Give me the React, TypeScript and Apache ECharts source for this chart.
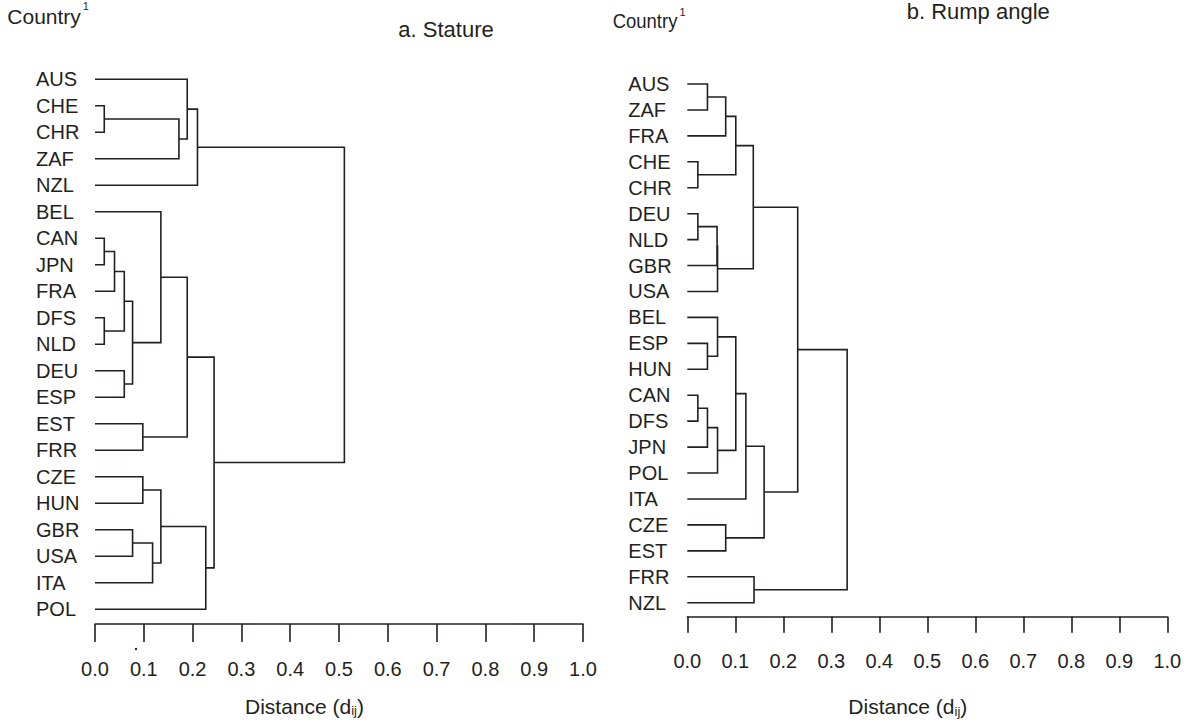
import React, { useEffect, useRef } from "react";
import * as echarts from "echarts";

// ---- Data ----
const leavesA = ["AUS", "CHE", "CHR", "ZAF", "NZL", "BEL", "CAN", "JPN", "FRA", "DFS", "NLD", "DEU", "ESP", "EST", "FRR", "CZE", "HUN", "GBR", "USA", "ITA", "POL"];
// merges: [childA, childB, height]; child = leaf name or index of an earlier merge
const mergesA: [string | number, string | number, number][] = [
  ["CHE", "CHR", 0.019],
  [0, "ZAF", 0.172],
  ["AUS", 1, 0.189],
  [2, "NZL", 0.21],
  ["CAN", "JPN", 0.019],
  [4, "FRA", 0.04],
  ["DFS", "NLD", 0.019],
  [5, 6, 0.06],
  ["DEU", "ESP", 0.06],
  [7, 8, 0.077],
  ["BEL", 9, 0.135],
  ["EST", "FRR", 0.098],
  [10, 11, 0.189],
  ["CZE", "HUN", 0.098],
  ["GBR", "USA", 0.077],
  [14, "ITA", 0.118],
  [13, 15, 0.135],
  [16, "POL", 0.227],
  [12, 17, 0.244],
  [3, 18, 0.511],
];

const leavesB = ["AUS", "ZAF", "FRA", "CHE", "CHR", "DEU", "NLD", "GBR", "USA", "BEL", "ESP", "HUN", "CAN", "DFS", "JPN", "POL", "ITA", "CZE", "EST", "FRR", "NZL"];
const mergesB: [string | number, string | number, number][] = [
  ["AUS", "ZAF", 0.042],
  [0, "FRA", 0.08],
  ["CHE", "CHR", 0.022],
  [1, 2, 0.101],
  ["DEU", "NLD", 0.022],
  [4, "GBR", 0.062],
  [5, "USA", 0.063],
  [3, 6, 0.1375],
  ["ESP", "HUN", 0.042],
  ["BEL", 8, 0.063],
  ["CAN", "DFS", 0.022],
  [10, "JPN", 0.042],
  [11, "POL", 0.063],
  [9, 12, 0.101],
  [13, "ITA", 0.122],
  ["CZE", "EST", 0.08],
  [14, 15, 0.16],
  [7, 16, 0.23],
  ["FRR", "NZL", 0.139],
  [17, 18, 0.333],
];

const xTicks = [0, 0.1, 0.2, 0.3, 0.4, 0.5, 0.6, 0.7, 0.8, 0.9, 1.0];
const titleA = "a. Stature";
const titleB = "b. Rump angle";

// ---- Style ----
const INK = "#231f20";
const FONT = "'Liberation Sans', Arial, Helvetica, sans-serif";

function buildLinks(leaves: string[], merges: [string | number, string | number, number][]) {
  const nodes: { y: number; h: number }[] = [];
  const resolve = (c: string | number) =>
    typeof c === "string" ? { y: leaves.indexOf(c), h: 0 } : nodes[c];
  const links: number[][] = [];
  merges.forEach(([a, b, h]) => {
    const A = resolve(a);
    const B = resolve(b);
    links.push([A.h, A.y, h, B.y, B.h]);
    nodes.push({ y: (A.y + B.y) / 2, h });
  });
  return links;
}

const renderLink = (params: any, api: any) => {
  const pts = [
    [api.value(0), api.value(1)],
    [api.value(2), api.value(1)],
    [api.value(2), api.value(3)],
    [api.value(4), api.value(3)],
  ].map((d) => api.coord(d));
  return {
    type: "polyline",
    shape: { points: pts },
    style: { stroke: INK, lineWidth: 1.6, fill: "none" },
  };
};

export default function App() {
  const ref = useRef<HTMLDivElement>(null);
  useEffect(() => {
    if (!ref.current) return;
    const chart = echarts.init(ref.current, undefined, { renderer: "svg" });
    const linksA = buildLinks(leavesA, mergesA);
    const linksB = buildLinks(leavesB, mergesB);

    const xAxisCfg = (i: number) => ({
      type: "value",
      gridIndex: i,
      min: xTicks[0],
      max: xTicks[xTicks.length - 1],
      interval: 0.1,
      position: "bottom",
      offset: i === 0 ? 14.7 : 14,
      axisLine: { show: true, onZero: false, lineStyle: { color: INK, width: 1.6 } },
      axisTick: { show: true, inside: false, length: i === 0 ? 18 : 16, lineStyle: { color: INK, width: 1.6 } },
      axisLabel: {
        formatter: (v: number) => v.toFixed(1),
        fontSize: 20,
        color: INK,
        fontFamily: FONT,
        margin: i === 0 ? 45 : 44.3,
        verticalAlign: "middle",
      },
      splitLine: { show: false },
    });

    const yAxisCfg = (i: number, leaves: string[]) => ({
      type: "value",
      gridIndex: i,
      min: 0,
      max: leaves.length - 1,
      interval: 1,
      inverse: true,
      axisLine: { show: false },
      axisTick: { show: false },
      splitLine: { show: false },
      axisLabel: {
        formatter: (v: number) => leaves[Math.round(v)] ?? "",
        fontSize: 20,
        color: INK,
        fontFamily: FONT,
        align: "left",
        margin: 59,
        verticalAlign: "middle",
        padding: [0, 0, 13, 0],
      },
    });

    const axisName = (x: number, y: number) => ({
      type: "text", x, y,
      style: {
        text: "{m|Distance (d}{s|ij}{m|)}", fontFamily: FONT, fill: INK, verticalAlign: "middle",
        rich: { m: { fontSize: 21, fontFamily: FONT, fill: INK }, s: { fontSize: 13, fontFamily: FONT, fill: INK, padding: [9, 0, 0, 0] } },
      },
    });

    const option: any = {
      animation: false,
      backgroundColor: "#ffffff",
      textStyle: { fontFamily: FONT },
      grid: [
        { left: 95, top: 79.3, width: 488, height: 530 },
        { left: 687.3, top: 84, width: 480, height: 518.7 },
      ],
      xAxis: [xAxisCfg(0), xAxisCfg(1)],
      yAxis: [yAxisCfg(0, leavesA), yAxisCfg(1, leavesB)],
      series: [
        { type: "custom", xAxisIndex: 0, yAxisIndex: 0, data: linksA, renderItem: renderLink, silent: true, clip: false },
        { type: "custom", xAxisIndex: 1, yAxisIndex: 1, data: linksB, renderItem: renderLink, silent: true, clip: false },
      ],
      graphic: [
        { type: "text", x: 7.3, y: 16, style: { text: "Country", fontSize: 21, fontFamily: FONT, fill: INK, verticalAlign: "middle" } },
        { type: "text", x: 82.7, y: 5.5, style: { text: "1", fontSize: 11, fontFamily: FONT, fill: INK, verticalAlign: "middle" } },
        { type: "text", x: 398.3, y: 29.7, style: { text: titleA, fontSize: 22, fontFamily: FONT, fill: INK, verticalAlign: "middle" } },
        { type: "text", x: 612.7, y: 20.8, scaleX: 0.88, style: { text: "Country", fontSize: 21, fontFamily: FONT, fill: INK, verticalAlign: "middle" } },
        { type: "text", x: 679.5, y: 11.7, style: { text: "1", fontSize: 11, fontFamily: FONT, fill: INK, verticalAlign: "middle" } },
        { type: "text", x: 906.7, y: 11.7, style: { text: titleB, fontSize: 22, fontFamily: FONT, fill: INK, verticalAlign: "middle" } },
        axisName(245, 706),
        axisName(848.3, 706.5),
        { type: "circle", shape: { cx: 136, cy: 649, r: 1.2 }, style: { fill: INK } },
      ],
    };
    chart.setOption(option);
    return () => chart.dispose();
  }, []);
  return <div ref={ref} style={{ position: "absolute", left: 0, top: 0, width: 1190, height: 724 }} />;
}
